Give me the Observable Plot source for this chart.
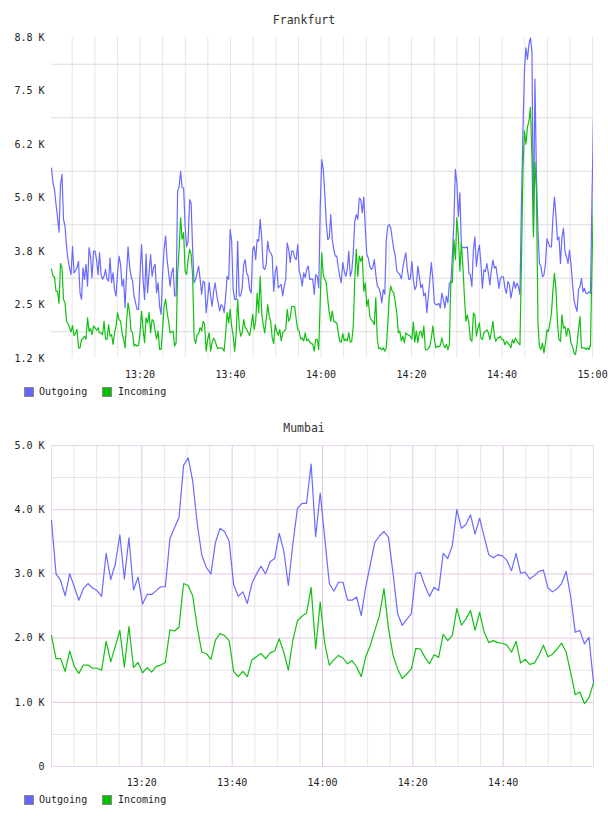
<!DOCTYPE html>
<html><head><meta charset="utf-8">
<script src="https://cdn.jsdelivr.net/npm/d3@7"></script>
<script src="https://cdn.jsdelivr.net/npm/@observablehq/plot@0.6"></script>
<style>
body{margin:0;background:#fff;font-family:"DejaVu Sans Mono",monospace;}
#page{position:relative;width:608px;height:816px;overflow:hidden;}
.title{position:absolute;left:0;width:608px;text-align:center;font-size:11.5px;line-height:14px;color:#333;}
.sw{position:absolute;width:8px;height:8px;border:1px solid #8a8a8a;}
.lt{position:absolute;font-size:10px;line-height:12px;color:#222;}
.chart{position:absolute;left:0;}
</style></head>
<body><div id="page"></div>
<script>
// ---------------- DATA ----------------
const seriesNames = ["Outgoing", "Incoming"];
const seriesColors = ["#6a6aff", "#12c012"];

// Frankfurt (values in K), ~20 s samples, 13:00:26 – 15:00:12
const fraOut = [
5.70,5.35,5.20,4.85,4.55,4.20,5.31,5.55,4.50,4.34,
3.87,3.56,3.37,3.21,3.87,3.25,3.30,3.37,3.52,2.78,
2.63,3.37,3.10,3.45,2.94,3.84,3.64,3.14,3.76,3.76,
3.56,3.21,3.72,3.21,3.10,3.17,3.33,3.10,3.06,3.60,
3.02,3.25,2.86,2.71,3.25,3.64,3.45,2.94,3.10,2.43,
3.25,3.86,3.41,3.17,3.06,2.71,2.55,2.40,2.40,3.25,
3.91,3.10,2.63,3.69,2.78,3.25,3.68,3.17,3.37,3.45,
2.78,3.02,2.47,2.28,3.25,3.80,4.11,3.56,3.25,2.94,
3.25,3.37,2.71,2.71,5.16,5.27,5.62,5.24,5.24,4.34,
3.87,3.99,4.96,
4.88,3.80,3.02,3.10,3.25,3.41,3.10,2.75,3.06,3.02,
2.32,2.63,3.03,2.71,2.47,2.82,3.02,2.75,2.55,2.36,
2.51,2.47,2.32,2.71,3.17,3.10,4.26,3.99,2.86,2.63,
2.63,3.99,2.71,2.71,2.90,3.45,3.56,3.25,3.17,2.86,
2.78,3.80,3.87,3.56,4.03,3.99,4.50,4.07,3.37,3.33,
3.45,3.99,3.76,3.72,3.64,2.82,3.25,3.41,2.90,2.94,
2.98,2.71,2.94,3.10,3.95,3.80,3.49,3.76,3.76,3.60,
3.56,3.91,3.29,3.17,2.94,3.25,3.14,3.33,3.41,3.10,
3.11,3.10,2.75,3.21,3.17,2.90,4.81,5.90,5.67,5.12,
4.42,4.03,
4.07,4.61,4.03,3.80,3.64,3.64,3.37,3.17,3.02,3.49,
3.29,3.17,3.33,3.76,3.17,3.29,3.72,4.46,4.61,4.50,
5.00,4.96,4.65,5.02,4.30,3.68,3.60,3.41,3.33,3.37,
3.56,3.21,2.94,2.90,2.78,2.55,2.86,2.75,4.03,4.34,
4.38,4.30,4.03,3.80,3.64,3.29,3.25,3.21,3.11,3.37,
3.56,3.72,3.33,3.10,3.11,3.52,3.10,2.86,2.94,3.41,
3.17,2.90,2.98,2.71,2.78,2.32,2.71,3.10,3.49,3.10,
2.55,2.51,2.51,2.54,2.43,2.78,2.63,2.43,2.71,2.55,
3.02,3.02,3.64,4.42,5.67,5.35,4.57,5.12,3.87,3.84,
3.84,3.84,
3.86,3.24,3.20,2.93,3.78,4.09,3.40,3.71,3.90,3.47,
2.89,3.32,3.28,3.47,3.24,2.97,3.32,3.55,3.36,3.40,
3.16,2.89,3.12,3.16,3.16,2.89,2.77,3.05,2.97,2.66,
2.86,3.05,2.89,3.01,2.93,2.74,4.87,6.57,7.97,8.51,
8.24,8.59,8.74,8.43,4.20,7.78,5.50,4.25,3.47,3.40,
3.16,3.20,3.47,4.05,3.94,3.86,3.86,4.56,5.02,4.59,
4.02,4.09,3.47,4.09,4.29,3.74,3.63,3.47,3.78,3.47,
3.01,2.62,2.47,2.35,2.86,2.93,3.12,2.81,2.89,2.77,
2.77,2.81,2.77,5.02,6.87
];
const fraIn = [
3.34,3.17,3.16,2.82,2.82,2.54,3.47,3.37,2.63,2.55,
2.12,2.07,1.97,1.87,2.02,1.79,1.83,1.93,1.50,1.50,
1.70,1.71,1.77,1.70,2.20,1.89,1.95,1.81,2.01,1.97,
1.91,1.97,1.85,1.85,1.81,2.12,1.70,1.70,2.04,1.77,
1.81,1.58,1.85,2.01,2.32,2.16,2.12,1.85,1.70,1.50,
2.12,2.55,2.32,1.89,1.85,1.54,1.58,1.54,1.56,1.85,
2.36,1.93,1.62,2.20,2.08,2.32,1.85,2.16,2.12,1.89,
1.70,1.89,1.46,1.46,1.93,2.47,2.64,2.32,2.12,1.85,
1.87,1.89,1.54,1.62,3.25,3.80,4.54,4.04,4.19,3.29,
3.21,3.56,3.80,
3.68,3.17,1.73,1.60,1.81,1.83,1.97,1.89,2.12,2.04,
1.42,1.70,1.85,1.42,1.62,1.73,1.66,1.54,1.48,1.50,
1.50,1.48,1.42,1.85,2.32,2.08,2.40,2.01,1.77,1.42,
1.85,2.63,2.01,1.77,1.85,2.16,1.97,1.93,1.85,1.79,
2.01,2.28,1.93,2.12,2.78,2.32,3.17,2.32,2.04,1.85,
2.16,2.51,2.24,2.12,1.73,1.60,2.04,1.89,1.79,1.93,
1.66,1.85,1.89,1.93,2.40,2.12,2.20,2.47,2.46,2.46,
2.16,1.93,1.89,1.70,1.73,1.66,1.85,1.66,1.70,1.63,
1.60,1.58,1.42,1.70,1.70,1.46,2.63,3.72,3.21,3.10,
3.02,2.63,
2.32,2.12,2.36,2.12,2.10,2.08,1.85,1.66,1.63,1.83,
1.66,1.71,1.66,1.85,1.63,1.66,2.01,3.10,3.80,3.17,
3.64,3.52,3.64,2.82,3.02,2.47,2.63,2.24,2.16,2.12,
2.04,2.67,1.70,1.48,1.50,1.45,1.50,1.42,1.50,2.08,
2.71,2.94,2.82,2.78,2.55,2.32,1.85,1.89,1.66,1.77,
1.62,1.85,1.81,1.79,1.77,1.70,2.10,1.63,1.89,1.62,
1.85,1.89,1.73,2.01,1.46,1.45,1.48,1.54,1.73,2.01,
1.70,1.50,1.54,1.52,1.56,1.73,1.58,1.50,1.58,1.46,
1.58,3.06,3.03,4.03,3.56,4.54,4.11,3.29,3.95,3.41,
2.71,2.12,
2.27,2.08,1.69,1.65,2.31,2.27,1.77,1.96,2.08,1.73,
1.69,1.85,1.88,1.92,1.85,1.69,1.88,2.12,1.77,1.65,
1.73,1.73,1.77,1.69,1.69,1.57,1.65,1.61,1.57,1.50,
1.69,1.61,1.73,1.65,1.61,1.57,3.47,5.64,6.57,6.26,
6.65,6.80,7.12,5.95,4.09,5.84,5.18,2.08,1.53,1.46,
1.61,1.38,1.61,1.92,1.88,2.08,2.31,2.86,3.24,2.86,
2.08,1.69,1.65,2.27,1.96,2.00,1.77,1.96,1.88,1.61,
1.53,1.38,1.34,1.57,1.92,2.23,1.50,1.50,1.50,1.46,
1.50,1.46,1.57,3.47,5.02
];
const fraYTicks = [1.25, 2.5, 3.75, 5, 6.25, 7.5, 8.75];
const fraYLabels = ["1.2 K", "2.5 K", "3.8 K", "5.0 K", "6.2 K", "7.5 K", "8.8 K"];
const fraYGrid = [1.875, 3.125, 4.375, 5.625, 6.875, 8.125];
const fraXTicks = ["13:20", "13:40", "14:00", "14:20", "14:40", "15:00"];

// Mumbai (values in K), 1-minute samples, 13:00 – 15:00
const mumOut = [
3.83,3.00,2.90,2.66,3.00,2.80,2.59,2.77,2.85,2.78,
2.74,2.65,3.32,2.91,3.15,3.61,2.92,3.56,2.75,2.95,
2.53,2.68,2.68,2.74,2.80,2.80,3.55,3.72,3.88,4.69,
4.81,4.45,3.78,3.29,3.10,3.00,3.49,3.71,3.66,3.51,
2.83,2.65,2.72,2.54,2.85,3.00,3.12,3.00,3.19,3.24,
3.63,3.36,2.82,3.47,4.02,4.10,4.10,4.71,3.58,4.26,
3.55,2.85,2.73,2.87,2.87,2.59,2.59,2.64,2.35,2.80,
3.15,3.49,3.59,3.66,3.57,3.00,2.38,2.20,2.29,2.38,
3.01,3.02,2.81,2.65,2.79,2.74,3.32,3.24,3.44,4.00,
3.71,3.77,3.92,3.62,3.87,3.58,3.30,3.25,3.30,3.28,
3.21,3.05,3.32,3.01,3.03,2.92,2.97,3.04,3.06,2.78,
2.72,2.77,2.85,3.04,2.64,2.09,2.12,1.91,2.01,1.31
];
const mumIn = [
2.04,1.68,1.68,1.48,1.80,1.56,1.45,1.58,1.58,1.53,
1.53,1.50,1.95,1.63,1.87,2.12,1.55,2.18,1.54,1.62,
1.46,1.54,1.47,1.56,1.58,1.62,2.13,2.11,2.17,2.85,
2.82,2.66,2.17,1.78,1.76,1.67,1.97,2.07,2.04,1.96,
1.48,1.40,1.48,1.40,1.66,1.71,1.76,1.68,1.77,1.80,
1.99,1.78,1.50,1.97,2.27,2.34,2.39,2.79,1.83,2.56,
1.91,1.58,1.66,1.73,1.69,1.60,1.65,1.55,1.40,1.71,
1.89,2.12,2.35,2.77,2.14,1.73,1.52,1.37,1.44,1.52,
1.84,1.83,1.70,1.60,1.74,1.70,2.06,1.96,2.04,2.46,
2.20,2.30,2.43,2.12,2.40,2.09,1.93,1.96,1.93,1.92,
1.89,1.78,1.95,1.61,1.67,1.59,1.61,1.73,1.89,1.71,
1.75,1.83,1.92,1.78,1.46,1.12,1.16,0.98,1.07,1.30
];
const mumYTicks = [0, 1, 2, 3, 4, 5];
const mumYLabels = ["0", "1.0 K", "2.0 K", "3.0 K", "4.0 K", "5.0 K"];
const mumYMajor = [1, 2, 3, 4];
const mumYMinor = [0.5, 1.5, 2.5, 3.5, 4.5];
const mumXTicks = ["13:20", "13:40", "14:00", "14:20", "14:40"];

// ---------------- BUILD ----------------
const T = (hm, s = 0) => { const [h, m] = hm.split(":").map(Number); return new Date(Date.UTC(2020, 0, 1, h, m, s)); };
const fmt = d3.utcFormat("%H:%M");

function rows(vals, start, end) {
  const step = (end - start) / (vals.length - 1);
  return vals.map((v, i) => ({t: new Date(+start + i * step), v}));
}

const fraStart = T("13:00", 26), fraEnd = T("15:00", 12);
const mumStart = T("13:00", 0), mumEnd = T("15:00", 0);

const page = document.getElementById("page");
function add(html) { page.insertAdjacentHTML("beforeend", html); }

function legend(top) {
  add(`<div class="sw" style="left:24px;top:${top}px;background:#6666ff"></div>
       <div class="lt" style="left:39px;top:${top - 1}px">${seriesNames[0]}</div>
       <div class="sw" style="left:102px;top:${top}px;background:#00c000"></div>
       <div class="lt" style="left:118px;top:${top - 1}px">${seriesNames[1]}</div>`);
}

const common = {
  width: 608, height: 350,
  marginTop: 7, marginLeft: 51, marginRight: 15, marginBottom: 22,
  style: {fontFamily: "'DejaVu Sans Mono', monospace", fontSize: "10px", color: "#222", background: "#fff", overflow: "visible"}
};

// Frankfurt
const fraGridX = d3.utcMinute.every(5).range(T("13:05"), new Date(+T("15:00") + 1000));
const fra = Plot.plot({
  ...common,
  x: {type: "utc", domain: [fraStart, fraEnd], label: null},
  y: {domain: [1.25, 8.75], label: null},
  marks: [
    Plot.ruleX(fraGridX, {stroke: "#e6e6e6", strokeWidth: 1}),
    Plot.ruleY(fraYGrid, {stroke: "#dcdcdc", strokeWidth: 1}),
    Plot.lineY(rows(fraOut, fraStart, fraEnd), {x: "t", y: "v", stroke: seriesColors[0], strokeWidth: 1.2, clip: true}),
    Plot.lineY(rows(fraIn, fraStart, fraEnd), {x: "t", y: "v", stroke: seriesColors[1], strokeWidth: 1.2, clip: true}),
    Plot.axisY(fraYTicks, {tickSize: 0, tickPadding: 7, tickFormat: d => fraYLabels[fraYTicks.indexOf(d)], fill: "#222"}),
    Plot.axisX(fraXTicks.map(s => T(s)), {tickSize: 0, tickPadding: 12, tickFormat: fmt, fill: "#222"})
  ]
});
add(`<div class="title" style="top:13px">Frankfurt</div>`);
fra.classList.add("chart"); fra.style.top = "30px";
page.appendChild(fra);
legend(387);

// Mumbai
const mumMajorX = mumXTicks.map(s => T(s));
const mumMinorX = d3.utcMinute.every(5).range(T("13:05"), T("15:00")).filter(d => d.getUTCMinutes() % 20 !== 0);
const mum = Plot.plot({
  ...common,
  x: {type: "utc", domain: [mumStart, mumEnd], label: null},
  y: {domain: [0, 5], label: null},
  marks: [
    Plot.ruleX(mumMinorX, {stroke: "#e8e8e8", strokeWidth: 1}),
    Plot.ruleY(mumYMinor, {stroke: "#e4e4e4", strokeWidth: 1}),
    Plot.ruleX(mumMajorX, {stroke: "#e2c8e2", strokeWidth: 1}),
    Plot.ruleY(mumYMajor, {stroke: "#e2c8e2", strokeWidth: 1}),
    Plot.frame({stroke: "#ead6ee", strokeWidth: 1}),
    Plot.lineY(rows(mumOut, mumStart, mumEnd), {x: "t", y: "v", stroke: seriesColors[0], strokeWidth: 1.2}),
    Plot.lineY(rows(mumIn, mumStart, mumEnd), {x: "t", y: "v", stroke: seriesColors[1], strokeWidth: 1.2}),
    Plot.axisY(mumYTicks, {tickSize: 0, tickPadding: 7, tickFormat: d => mumYLabels[mumYTicks.indexOf(d)], fill: "#222"}),
    Plot.axisX(mumMajorX, {tickSize: 0, tickPadding: 12, tickFormat: fmt, fill: "#222"})
  ]
});
add(`<div class="title" style="top:421px">Mumbai</div>`);
mum.classList.add("chart"); mum.style.top = "438px";
page.appendChild(mum);
legend(795);
</script>
</body></html>
